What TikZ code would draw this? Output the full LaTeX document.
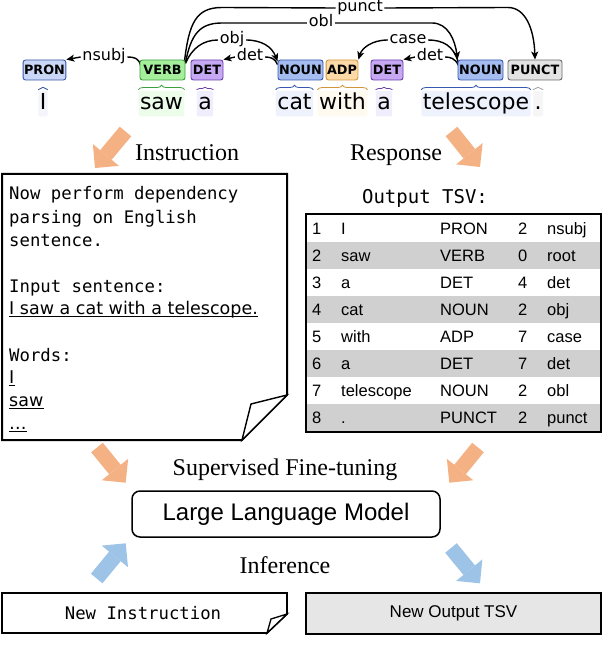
\documentclass[tikz,border=0pt]{standalone}
\usepackage{fontspec}
\setmainfont{Liberation Serif}
\setmonofont{DejaVu Sans Mono}
\newfontfamily\djv{DejaVu Sans}
\newfontfamily\arialf{Liberation Sans}
\usetikzlibrary{arrows.meta,decorations.pathreplacing,calc}
\pgfdeclarelayer{bg}
\pgfsetlayers{bg,main}
\definecolor{pronF}{HTML}{C9D6F5}
\definecolor{pronD}{HTML}{3A56A8}
\definecolor{verbF}{HTML}{A4EE9C}
\definecolor{verbD}{HTML}{3FA03F}
\definecolor{detF}{HTML}{C7A9F3}
\definecolor{detD}{HTML}{6B3FB0}
\definecolor{nounF}{HTML}{A5BCF0}
\definecolor{nounD}{HTML}{3858B0}
\definecolor{adpF}{HTML}{FDD9A8}
\definecolor{adpD}{HTML}{D2963A}
\definecolor{punF}{HTML}{E3E3E3}
\definecolor{punD}{HTML}{6A6A6A}
\definecolor{arrO}{HTML}{F4B183}
\definecolor{arrB}{HTML}{9DC3E6}
\definecolor{rowG}{HTML}{D0D0D0}
\definecolor{boxG}{HTML}{E6E6E6}
\definecolor{wPron}{HTML}{F3F5FB}
\definecolor{wVerb}{HTML}{ECFDEA}
\definecolor{wDet}{HTML}{F0EDFC}
\definecolor{wNoun}{HTML}{EEF2FD}
\definecolor{wAdp}{HTML}{FFFAF0}
\definecolor{wPun}{HTML}{F6F6F6}
\begin{document}
\begin{tikzpicture}[x=1pt,y=-1pt,
 tagbox/.style={draw, rounded corners=2.5pt, line width=0.9pt, minimum height=20pt, inner xsep=1pt, inner ysep=0pt, font=\fontsize{12.8}{14}\selectfont\djv\bfseries},
 wordbox/.style={anchor=base, inner xsep=1.5pt, inner ysep=2pt, text height=17pt, text depth=4.5pt, rounded corners=2pt, font=\fontsize{22}{26}\selectfont\djv},
 deplbl/.style={fill=white, inner xsep=1.5pt, inner ysep=0pt, text height=11.5pt, text depth=3.5pt, font=\fontsize{16}{18}\selectfont\djv},
 arc/.style={line width=1.4pt},
 arr/.style={arc, -{Stealth[length=8pt,width=7pt,inset=2pt]}},
 wbrace/.style={line width=0.8pt, decorate, decoration={brace, amplitude=4.5pt}},
 tbrace/.style={line width=0.8pt, decorate, decoration={brace, amplitude=2.5pt}},
 blk/.style={line width=15pt, -{Triangle[length=17pt,width=34pt,line width=0pt]}},
 mono/.style={inner sep=0pt, anchor=base west, font=\fontsize{17.3}{20}\selectfont\ttfamily},
 comic/.style={inner sep=0pt, anchor=base west, font=\fontsize{17.5}{20}\selectfont\djv},
 serifl/.style={anchor=base, inner sep=0pt, font=\fontsize{24}{28}\selectfont},
 cell/.style={anchor=base west, inner sep=0pt, font=\fontsize{16.5}{19}\selectfont\arialf},
 uline/.style={line width=1.1pt}
]
\useasboundingbox (0,0) rectangle (602,668);

% ---------- POS tags ----------
\node[tagbox, fill=pronF, draw=pronD, minimum width=42pt] (pron) at (44.5,70) {PRON};
\node[tagbox, fill=verbF, draw=verbD, minimum width=45pt] (verb) at (162.5,70) {VERB};
\node[tagbox, fill=detF, draw=detD, minimum width=32pt] (det1) at (207,70) {DET};
\node[tagbox, fill=nounF, draw=nounD, minimum width=45pt] (noun1) at (300.5,70) {NOUN};
\node[tagbox, fill=adpF, draw=adpD, minimum width=30pt] (adp) at (342,70) {ADP};
\node[tagbox, fill=detF, draw=detD, minimum width=32pt] (det2) at (387,70) {DET};
\node[tagbox, fill=nounF, draw=nounD, minimum width=45pt] (noun2) at (480.5,70) {NOUN};
\node[tagbox, fill=punF, draw=punD, minimum width=54pt] (punct) at (535,70) {PUNCT};

% ---------- words ----------
\node[wordbox, fill=wPron] (wI) at (43,110) {I};
\node[wordbox, fill=wVerb] (wsaw) at (161.5,110) {saw};
\node[wordbox, fill=wDet] (wa1) at (205,110) {a};
\node[wordbox, fill=wNoun] (wcat) at (294.5,110) {cat};
\node[wordbox, fill=wAdp] (wwith) at (342.5,110) {with};
\node[wordbox, fill=wDet] (wa2) at (384,110) {a};
\node[wordbox, fill=wNoun] (wtel) at (476,110) {telescope};
\node[wordbox, fill=wPun] (wdot) at (538,110) {.};

\draw[tbrace, pronD] ([yshift=1pt]wI.north west) -- ([yshift=1pt]wI.north east);
\draw[wbrace, verbD] ([yshift=1pt]wsaw.north west) -- ([yshift=1pt]wsaw.north east);
\draw[tbrace, detD] ([yshift=1pt]wa1.north west) -- ([yshift=1pt]wa1.north east);
\draw[wbrace, nounD] ([yshift=1pt]wcat.north west) -- ([yshift=1pt]wcat.north east);
\draw[wbrace, adpD] ([yshift=1pt]wwith.north west) -- ([yshift=1pt]wwith.north east);
\draw[tbrace, detD] ([yshift=1pt]wa2.north west) -- ([yshift=1pt]wa2.north east);
\draw[wbrace, nounD] ([yshift=1pt]wtel.north west) -- ([yshift=1pt]wtel.north east);
\draw[tbrace, punD!60] ([yshift=1pt]wdot.north west) -- ([yshift=1pt]wdot.north east);

% ---------- dependency labels ----------
\node[deplbl] (lnsubj) at (104,57) {nsubj};
\node[deplbl] (lobj) at (232,40) {obj};
\node[deplbl] (ldetA) at (250,57) {det};
\node[deplbl] (lobl) at (321,23) {obl};
\node[deplbl] (lpunct) at (360,8) {punct};
\node[deplbl] (lcase) at (408,40) {case};
\node[deplbl] (ldetB) at (430,57) {det};

\begin{pgfonlayer}{bg}
% nsubj
\draw[arc] (lnsubj.east) .. controls (134,57) and (139,58) .. ($(verb.north west)+(1,6)$);
\draw[arr] (lnsubj.west) -- (pron.north east);
% obj
\draw[arc] ($(verb.north east)+(0,4)$) .. controls (192,48) and (203,40) .. (lobj.west);
\draw[arr] (lobj.east) .. controls (262,40) and (272,47) .. ($(noun1.north west)+(0,2)$);
% det (a -> cat)
\draw[arc] ($(noun1.north west)+(0,5)$) .. controls (275,58) and (270,57) .. (ldetA.east);
\draw[arr] (ldetA.west) -- (det1.north east);
% obl
\draw[arc] ($(verb.north east)+(0,3)$) .. controls (191,35) and (199,23) .. (222,23) -- (lobl.west);
\draw[arr] (lobl.east) -- (432,23) .. controls (448,23) and (455,40) .. (noun2.north west);
% punct
\draw[arc] ($(verb.north east)+(-1,2)$) .. controls (189,23) and (196,7.5) .. (222,7.5) -- (lpunct.west);
\draw[arr] (lpunct.east) -- (508,7.5) .. controls (525,7.5) and (534,28) .. (punct.north);
% case
\draw[arc] ($(noun2.north west)+(1,4)$) .. controls (454,45) and (442,40) .. (lcase.east);
\draw[arr] (lcase.west) .. controls (372,40) and (362,48) .. (adp.north east);
% det (a -> telescope)
\draw[arc] ($(noun2.north west)+(1,6)$) .. controls (455,58) and (450,57) .. (ldetB.east);
\draw[arr] (ldetB.west) -- (det2.north east);
\end{pgfonlayer}

% ---------- section labels ----------
\node[serifl] (lins) at (187,161) {Instruction};
\node[serifl] (lres) at (396,161) {Response};
\node[serifl] (lsft) at (285,475) {Supervised Fine-tuning};
\node[serifl] (linf) at (285,573) {Inference};

% ---------- block arrows ----------
\coordinate (a1t) at (125.5,131.5); \coordinate (a1h) at (95,168);
\coordinate (a2t) at (451.5,131.5); \coordinate (a2h) at (480,167);
\coordinate (a3t) at (97,447.5);    \coordinate (a3h) at (125.7,482.7);
\coordinate (a4t) at (478,447.5);   \coordinate (a4h) at (449.3,482.7);
\coordinate (a5t) at (96.7,578.5);  \coordinate (a5h) at (125.7,543.3);
\coordinate (a6t) at (451,548);     \coordinate (a6h) at (480,583.3);
\draw[blk, arrO] (a1t) -- (a1h);
\draw[blk, arrO] (a2t) -- (a2h);
\draw[blk, arrO] (a3t) -- (a3h);
\draw[blk, arrO] (a4t) -- (a4h);
\draw[blk, arrB] (a5t) -- (a5h);
\draw[blk, arrB] (a6t) -- (a6h);

% ---------- instruction box ----------
\draw[line width=2pt, fill=white] (2,174) -- (287,174) -- (287,395) -- (242,440) -- (2,440) -- cycle;
\draw[line width=1.4pt, fill=white] (242,440) -- (251,404) -- (287,395) -- cycle;
\node[mono] (it1) at (9,200) {Now perform dependency};
\node[mono] (it2) at (9,223) {parsing on English};
\node[mono] (it3) at (9,246) {sentence.};
\node[mono] (it4) at (9,292) {Input sentence:};
\node[comic] (it5) at (9,314) {I saw a cat with a telescope.};
\node[mono] (it6) at (9,361) {Words:};
\node[comic] (it7) at (9,383) {I};
\node[comic] (it8) at (9,406) {saw};
\node[comic] (it9) at (9,429) {…};
\draw[uline] ([yshift=-2.5pt]it5.base west) -- ([yshift=-2.5pt]it5.base east);
\draw[uline] ([yshift=-2.5pt]it7.base west) -- ([yshift=-2.5pt]it7.base east);
\draw[uline] ([yshift=-2.5pt]it8.base west) -- ([yshift=-2.5pt]it8.base east);
\draw[uline] ([yshift=-2.5pt]it9.base west) -- ([yshift=-2.5pt]it9.base east);

% ---------- output table ----------
\node[mono, anchor=base, font=\fontsize{19}{22}\selectfont\ttfamily] (otsv) at (425,204) {Output TSV:};
\foreach \i in {2,4,6,8} {
  \fill[rowG] (306,{215+(\i-1)*27}) rectangle (600,{215+\i*27});
}
\draw[line width=2pt] (305.5,213.5) rectangle (600.5,431.5);
\foreach \i/\w/\p/\h/\r [evaluate=\i as \yb using 215+(\i-1)*27+19.5] in
  {1/I/PRON/2/nsubj, 2/saw/VERB/0/root, 3/a/DET/4/det, 4/cat/NOUN/2/obj,
   5/with/ADP/7/case, 6/a/DET/7/det, 7/telescope/NOUN/2/obl, 8/./PUNCT/2/punct} {
  \node[cell] (t\i a) at (312,\yb) {\i};
  \node[cell] (t\i b) at (341,\yb) {\w};
  \node[cell] (t\i c) at (440,\yb) {\p};
  \node[cell] (t\i d) at (518,\yb) {\h};
  \node[cell] (t\i e) at (547,\yb) {\r};
}

% ---------- LLM ----------
\node[draw, line width=1.5pt, rounded corners=8pt, minimum width=308pt, minimum height=46pt,
      font=\fontsize{24}{28}\selectfont\arialf] (llm) at (286,514) {Large Language Model};

% ---------- bottom boxes ----------
\draw[line width=1.8pt, fill=white] (2,593) -- (287,593) -- (287,614) -- (267,633) -- (2,633) -- cycle;
\draw[line width=1.3pt, fill=white] (267,633) -- (271,619) -- (287,614) -- cycle;
\node[mono, anchor=center] (newins) at (143,613) {New Instruction};
\node[draw, line width=1.8pt, fill=boxG, minimum width=295pt, minimum height=41pt, inner sep=0pt,
      font=\fontsize{17}{20}\selectfont\arialf] (newout) at (453.5,613.5) {New Output TSV};
\end{tikzpicture}
\end{document}
